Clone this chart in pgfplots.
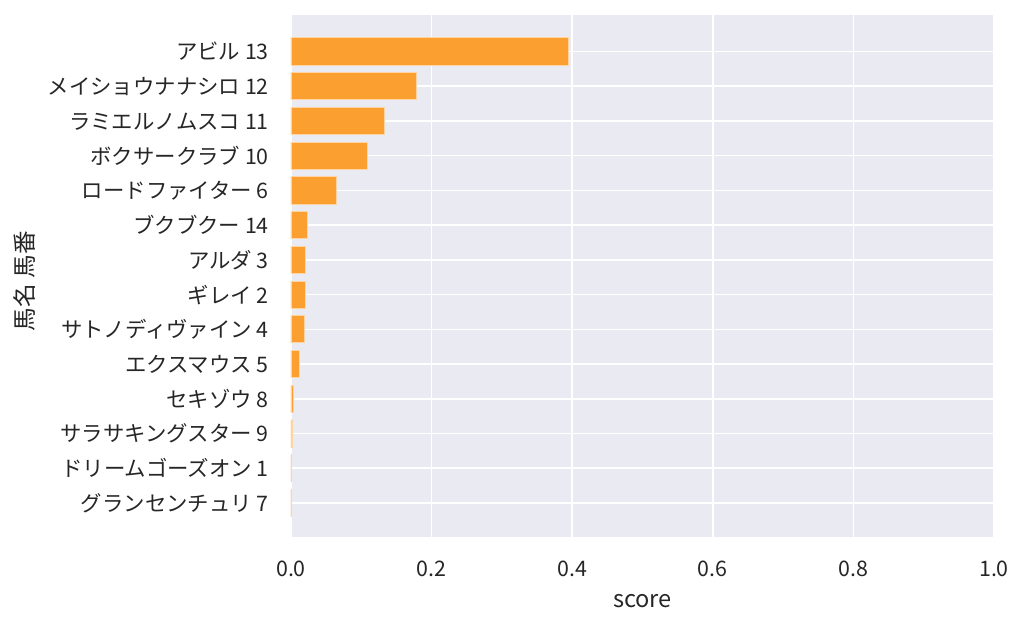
\documentclass[border=0pt]{standalone}
\usepackage{fontspec}
\setmainfont{Noto Sans CJK JP}
\usepackage{pgfplots}
\pgfplotsset{compat=1.18}
\definecolor{bg}{RGB}{234,234,242}
\definecolor{barc}{RGB}{251,159,48}
\definecolor{txt}{RGB}{38,38,38}
\begin{document}
\begin{tikzpicture}[x=1bp,y=1bp]
\begin{axis}[
  at={(0,0)}, anchor=south west,
  scale only axis, width=506.16bp, height=375.84bp,
  xbar, bar width=0.78,
  xmin=0, xmax=1, ymin=-0.98, ymax=14.05,
  ytick={0,1,2,3,4,5,6,7,8,9,10,11,12,13},
  yticklabels={グランセンチュリ 7, ドリームゴーズオン 1, サラサキングスター 9, セキゾウ 8, エクスマウス 5, サトノディヴァイン 4, ギレイ 2, アルダ 3, ブクブクー 14, ロードファイター 6, ボクサークラブ 10, ラミエルノムスコ 11, メイショウナナシロ 12, アビル 13},
  xtick={0,0.2,0.4,0.6,0.8,1.0},
  xticklabels={0.0,0.2,0.4,0.6,0.8,1.0},
  /pgf/number format/assume math mode=true,
  axis background/.style={fill=bg},
  axis line style={draw=none},
  major tick length=0pt,
  grid=major,
  major grid style={white, line width=1.1bp},
  tick label style={font=\fontsize{15.4bp}{18bp}\selectfont, text=txt},
  label style={font=\fontsize{17bp}{20bp}\selectfont, text=txt},
  yticklabel style={anchor=base east, inner sep=0pt, xshift=-15.8bp, yshift=-6.1bp},
  xticklabel style={anchor=base, inner sep=0pt, yshift=-28.6bp},
  xlabel={score},
  ylabel={馬名 馬番},
  xlabel style={at={(axis description cs:0.5,0)}, anchor=base, inner sep=0pt, yshift=-51.1bp},
  ylabel style={at={(axis description cs:-0.3788,0.49)}, anchor=center, inner sep=0pt},
]
\addplot[fill=barc, draw=white!55!barc, line width=0.6bp] coordinates {
  (0.0003,0) (0.0008,1) (0.0025,2) (0.003,3) (0.012,4) (0.019,5) (0.020,6)
  (0.020,7) (0.023,8) (0.064,9) (0.108,10) (0.133,11) (0.178,12) (0.395,13)
};
\end{axis}
\pgfresetboundingbox
\path[use as bounding box] (-209.52,-64.8) rectangle (527.76,386.64);
\end{tikzpicture}
\end{document}
